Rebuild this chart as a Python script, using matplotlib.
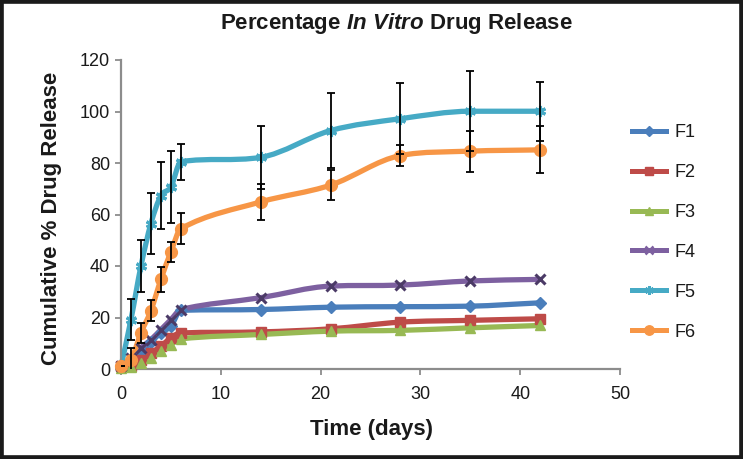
import numpy as np
import matplotlib
matplotlib.use("Agg")
import matplotlib.pyplot as plt
from matplotlib.path import Path
from matplotlib.patches import PathPatch, Rectangle
from matplotlib.lines import Line2D

# ---- data ----
days = [0, 1, 2, 3, 4, 5, 6, 14, 21, 28, 35, 42]
F1 = [1.0, 3.0, 6.3, 10.3, 14.1, 16.6, 22.8, 23.1, 24.0, 24.2, 24.4, 25.7]
F2 = [1.0, 1.0, 3.6, 6.3, 8.8, 12.2, 14.0, 14.4, 15.6, 18.2, 18.9, 19.5]
F3 = [0.5, 0.8, 2.3, 4.3, 6.9, 9.5, 11.7, 13.4, 14.7, 15.0, 16.0, 16.9]
F4 = [1.0, 4.4, 8.3, 11.4, 15.3, 19.2, 23.1, 27.7, 32.2, 32.6, 34.2, 34.8]
F5 = [1.0, 19.2, 40.0, 56.5, 67.3, 70.7, 80.5, 82.2, 92.6, 97.2, 100.1, 100.1]
F6 = [1.0, 3.6, 14.0, 22.7, 34.8, 45.5, 54.5, 64.9, 71.4, 82.9, 84.6, 85.1]
F5_err = [0, 8, 10, 12, 13, 14, 7, 12.2, 14.5, 13.8, 15.6, 11.4]
F6_err = [0, 4.5, 4, 4, 5, 4, 6, 7.1, 5.8, 4, 8, 9.1]

labels = ["F1", "F2", "F3", "F4", "F5", "F6"]
series = [F1, F2, F3, F4, F5, F6]
colors = ["#4A7EBB", "#BE4B48", "#98B954", "#7D60A0", "#46AAC5", "#F79646"]
edge_colors = ["#4A7EBB", "#BE4B48", "#98B954", "#4B3A66", "#46AAC5", "#F79646"]
markers = ["D", "s", "^", "x", (6, 2, 0), "o"]
msizes = [6.5, 7, 7.5, 7, 8, 8.5]

x_ticks = [0, 10, 20, 30, 40, 50]
y_ticks = [0, 20, 40, 60, 80, 100, 120]

FONT = "Liberation Sans"


def smooth_path(x, y):
    x = np.asarray(x, float)
    y = np.asarray(y, float)
    n = len(x)
    h = np.diff(x)
    d = np.diff(y) / h
    m = np.zeros(n)
    m[0] = d[0]
    m[-1] = d[-1]
    for i in range(1, n - 1):
        if d[i - 1] * d[i] <= 0:
            m[i] = 0.0
        else:
            s = (y[i + 1] - y[i - 1]) / (x[i + 1] - x[i - 1])
            lim = 3 * min(abs(d[i - 1]), abs(d[i]))
            m[i] = np.sign(s) * min(abs(s), lim)
    verts = [(x[0], y[0])]
    codes = [Path.MOVETO]
    for i in range(n - 1):
        verts.append((x[i] + h[i] / 3, y[i] + m[i] * h[i] / 3))
        verts.append((x[i + 1] - h[i] / 3, y[i + 1] - m[i + 1] * h[i] / 3))
        verts.append((x[i + 1], y[i + 1]))
        codes += [Path.CURVE4] * 3
    return Path(verts, codes)


plt.rcParams["font.family"] = [FONT, "DejaVu Sans"]
plt.rcParams["mathtext.fontset"] = "custom"
plt.rcParams["mathtext.bfit"] = "Liberation Sans:italic:bold"
plt.rcParams["mathtext.rm"] = "Liberation Sans:bold"
plt.rcParams["mathtext.it"] = "Liberation Sans:italic:bold"
plt.rcParams["mathtext.bf"] = "Liberation Sans:bold"

fig = plt.figure(figsize=(7.43, 4.59), dpi=100)
ax = fig.add_axes([121 / 743, 1 - 369 / 459, (620 - 121) / 743, (369 - 60) / 459])

LW = 3.8
for ys, c in zip(series, colors):
    patch = PathPatch(smooth_path(days, ys), facecolor="none", edgecolor=c,
                      lw=LW, capstyle="round", joinstyle="round", zorder=2,
                      clip_on=False)
    ax.add_patch(patch)

for ys, c, ec, mk, ms in zip(series, colors, edge_colors, markers, msizes):
    mew = 2.2 if mk in ("x",) or isinstance(mk, tuple) else 1.0
    ax.plot(days, ys, linestyle="none", marker=mk, markersize=ms,
            markerfacecolor=c, markeredgecolor=ec, markeredgewidth=mew,
            zorder=3, clip_on=False)

for ys, err in ((F5, F5_err), (F6, F6_err)):
    ax.errorbar(days, ys, yerr=err, fmt="none", ecolor="black",
                elinewidth=1.3, capsize=3.0, capthick=1.3, zorder=4)

ax.set_xlim(0, 50)
ax.set_ylim(0, 120)
ax.set_xticks(x_ticks)
ax.set_yticks(y_ticks)
ax.spines["top"].set_visible(False)
ax.spines["right"].set_visible(False)
for s in ("left", "bottom"):
    ax.spines[s].set_color("#8C8C8C")
    ax.spines[s].set_linewidth(1.6)
ax.tick_params(axis="both", direction="out", length=4.5, width=1.3,
               color="#8C8C8C", labelsize=13, labelcolor="#1a1a1a")
ax.tick_params(axis="y", pad=3.5)
ax.tick_params(axis="x", pad=8)

handles = [Line2D([0], [0], color=c, lw=3.6, marker=mk, markersize=ms * 0.8,
                  markerfacecolor=c, markeredgecolor=c,
                  markeredgewidth=(1.8 if (mk == "x" or isinstance(mk, tuple)) else 1.0))
           for c, mk, ms in zip(colors, markers, msizes)]
ax.legend(handles, labels, loc="upper left",
          bbox_to_anchor=(632 / 743, 1 - 124 / 459), bbox_transform=fig.transFigure,
          frameon=False, handlelength=1.9, handletextpad=0.45, labelspacing=1.27,
          borderpad=0, borderaxespad=0, fontsize=13, labelcolor="#1a1a1a")

fig.text(396 / 743, 1 - 24 / 459, r"Percentage $\mathbfit{In\ Vitro}$ Drug Release",
         ha="center", va="center", fontsize=16, fontweight="bold", color="#1a1a1a")
fig.text(52 / 743, 1 - 218 / 459, "Cumulative % Drug Release", rotation=90,
         ha="center", va="center", fontsize=16, fontweight="bold", color="#1a1a1a")
fig.text(371 / 743, 1 - 429 / 459, "Time (days)", ha="center", va="center",
         fontsize=16, fontweight="bold", color="#1a1a1a")

fig.patches.append(Rectangle((0, 0), 1, 1, transform=fig.transFigure, fill=False,
                             edgecolor="#1a1a1a", linewidth=5.5, zorder=10))

fig.savefig("out.png", dpi=100)
